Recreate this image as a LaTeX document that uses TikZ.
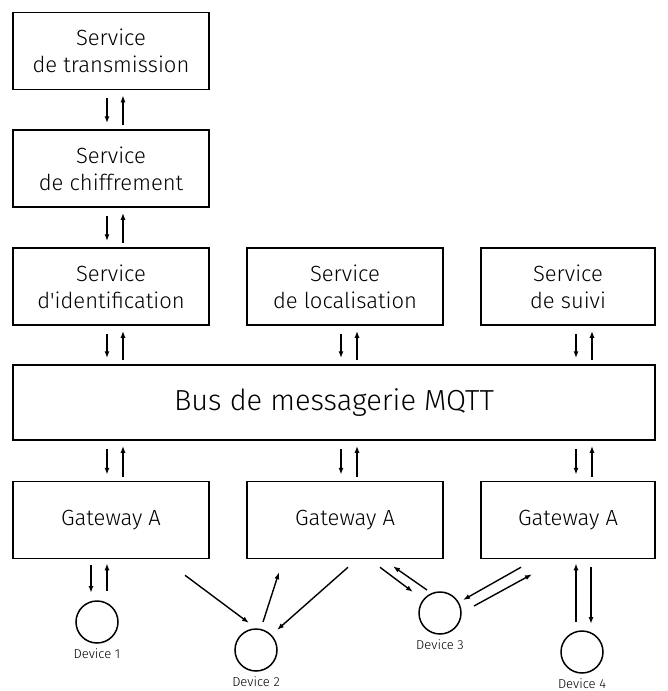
\documentclass[tikz,border=0pt]{standalone}
\usepackage{fontspec}
\newfontfamily\diagfont{Fira Sans Light}
\usetikzlibrary{arrows.meta,positioning,calc}

\tikzset{
  svcbox/.style={draw, line width=1.5pt, minimum width=196pt, minimum height=77pt,
    align=center, font=\diagfont\fontsize{22}{27}\selectfont},
  devcircle/.style={draw, circle, line width=1.5pt, minimum size=42pt, inner sep=0pt},
  devlabel/.style={font=\diagfont\fontsize{13}{15}\selectfont},
  flow/.style={line width=1.4pt, -{Latex[length=7pt,width=5pt]}},
}

\begin{document}
\begin{tikzpicture}[x=1pt, y=-1pt]
\useasboundingbox (0,0) rectangle (668,691);

% ================= SERVICES =================
\node[svcbox] (trans) at (111,51)    {Service\\de transmission};
\node[svcbox] (chiff) at (111,168.5) {Service\\de chiffrement};
\node[svcbox] (ident) at (111,286.5) {Service\\d'identification};
\node[svcbox] (local) at (345,286.5) {Service\\de localisation};
\node[svcbox, minimum width=174pt] (suivi) at (568,286.5) {Service\\de suivi};

% ================= BUS =================
\node[svcbox, minimum width=642pt, minimum height=75pt, font=\diagfont\fontsize{29}{32}\selectfont]
  (bus) at (334,402.5) {Bus de messagerie MQTT};

% ================= GATEWAYS =================
\node[svcbox] (gw1) at (111,520) {Gateway A};
\node[svcbox] (gw2) at (345,520) {Gateway A};
\node[svcbox, minimum width=174pt] (gw3) at (568,520) {Gateway A};

% ================= DEVICES =================
\node[devcircle, label={[devlabel, yshift=-1pt]below:Device 1}] (dev1) at (97,622)  {};
\node[devcircle, label={[devlabel, yshift=-1pt]below:Device 2}] (dev2) at (256,650) {};
\node[devcircle, label={[devlabel, yshift=-1pt]below:Device 3}] (dev3) at (440,613) {};
\node[devcircle, label={[devlabel, yshift=-1pt]below:Device 4}] (dev4) at (582,652) {};

% Vertical pairs (down / up), x taken from the column node
\foreach \a/\b/\c/\dx in {trans/chiff/trans/0, chiff/ident/trans/0, ident/bus/ident/0,
                          bus/gw1/gw1/0, local/bus/local/0, bus/gw2/gw2/0,
                          suivi/bus/suivi/12, bus/gw3/gw3/12}
{
  \draw[flow, shorten <=8pt, shorten >=6pt]
    ($(\c |- \a.south)+(-4+\dx,0)$) -- ($(\c |- \b.north)+(-4+\dx,0)$);
  \draw[flow, shorten <=4pt, shorten >=5pt]
    ($(\c |- \b.north)+(12+\dx,0)$) -- ($(\c |- \a.south)+(12+\dx,0)$);
}

% Gateways <-> devices
\draw[flow] ($(gw1.south)+(-20,6)$) -- ($(dev1)+(-6,-29)$);
\draw[flow] ($(dev1)+(10,-31)$) -- ($(gw1.south)+(-4,4)$);

\draw[flow] ($(gw1.south)+(74,16)$) -- ($(dev2)+(-7,-27)$);
\draw[flow] ($(dev2)+(7,-28)$) -- ($(gw2.south)+(-66,13)$);
\draw[flow] ($(gw2.south)+(3,8)$) -- ($(dev2)+(21,-20)$);

\draw[flow] ($(gw2.south)+(35,8)$) -- ($(dev3)+(-27,-21)$);
\draw[flow] ($(dev3)+(-13,-23)$) -- ($(gw2.south)+(48,7)$);
\draw[flow] ($(gw3.south)+(-47,8)$) -- ($(dev3)+(23,-13)$);
\draw[flow] ($(dev3)+(34,-7)$) -- ($(gw3.south)+(-36,15)$);

\draw[flow] ($(dev4)+(-6,-30)$) -- ($(gw3.south)+(8,4)$);
\draw[flow] ($(gw3.south)+(23,8)$) -- ($(dev4)+(9,-28)$);

\end{tikzpicture}
\end{document}
